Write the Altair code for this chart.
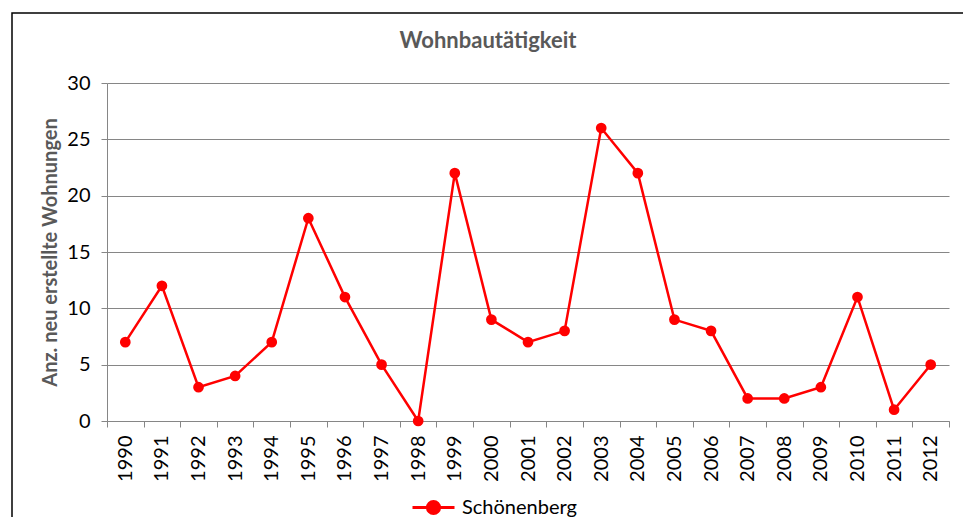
import altair as alt
import pandas as pd

years = [str(y) for y in range(1990, 2013)]
values = [7, 12, 3, 4, 7, 18, 11, 5, 0, 22, 9, 7, 8, 26, 22, 9, 8, 2, 2, 3, 11, 1, 5]
series = "Schönenberg"

df = pd.DataFrame({"Jahr": years, "Wohnungen": values, "Gemeinde": [series] * len(years)})

FONT = "Lato"
RED = "#FF0000"
GRAY = "#868686"

legend_symbol = "M-1,0L1,0M-0.29,0A0.29,0.29 0 1,1 0.29,0A0.29,0.29 0 1,1 -0.29,0Z"

base = alt.Chart(df)

line = base.mark_line(
    color=RED, strokeWidth=2.5,
    point=alt.OverlayMarkDef(filled=True, size=115, color=RED, opacity=1),
).encode(
    x=alt.X("Jahr:O",
            scale=alt.Scale(type="band", paddingInner=0, paddingOuter=0),
            axis=alt.Axis(title=None, labelAngle=-90, labelFontSize=20, labelColor="black",
                          labelFont=FONT, tickBand="extent", tickSize=6, tickColor=GRAY,
                          domainColor=GRAY, labelPadding=8, grid=False, labelBaseline="middle",
                          labelAlign="right")),
    y=alt.Y("Wohnungen:Q",
            scale=alt.Scale(domain=[0, 30], nice=False),
            axis=alt.Axis(title="Anz. neu erstellte Wohnungen", values=[0, 5, 10, 15, 20, 25, 30],
                          titleFontSize=20, titleFont=FONT, titleFontWeight="bold",
                          titleColor="#595959", titlePadding=6,
                          labelFontSize=20, labelFont=FONT, labelColor="black", labelPadding=11,
                          tickSize=6, tickColor=GRAY, domainColor=GRAY,
                          grid=True, gridColor=GRAY, gridWidth=1)),
    color=alt.Color("Gemeinde:N", scale=alt.Scale(range=[RED]),
                    legend=alt.Legend(title=None, orient="none", legendX=304, legendY=402,
                                      symbolType=legend_symbol, symbolSize=1764,
                                      symbolStrokeWidth=3, symbolFillColor=RED,
                                      symbolStrokeColor=RED, labelFontSize=20, labelFont=FONT,
                                      labelColor="black", labelOffset=6)),
)

frame_df = pd.DataFrame({"k": [0]})
frame = alt.Chart(frame_df).mark_rect(
    fill=None, stroke="black", strokeWidth=1.5, clip=False
).encode(
    x=alt.value(-95), x2=alt.value(860), y=alt.value(-70), y2=alt.value(470)
)

chart = alt.layer(frame, line).properties(
    width=842, height=338,
    title=alt.TitleParams("Wohnbautätigkeit", font=FONT, fontSize=22, fontWeight="bold",
                          color="#595959", anchor="middle", frame="group", dx=-40, offset=-41),
    padding={"left": 99, "top": 75, "right": 14, "bottom": 96},
    autosize=alt.AutoSizeParams(type="none"),
).configure_view(stroke=None)

chart.save("out.html", embed_options={"renderer": "svg", "actions": False})
